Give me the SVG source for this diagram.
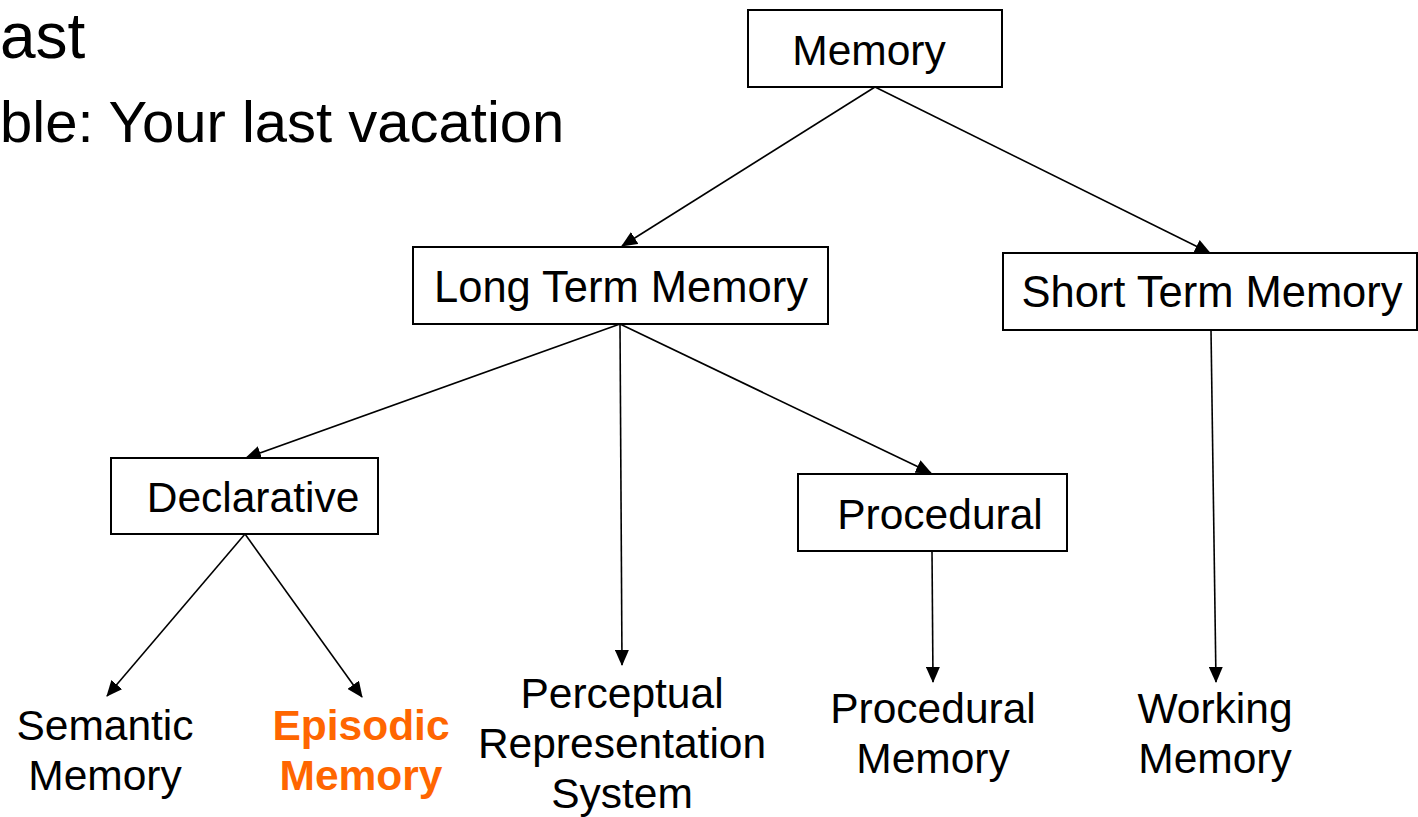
<svg xmlns="http://www.w3.org/2000/svg" width="1418" height="817" viewBox="0 0 1418 817">
<style>
.t{font-family:"Liberation Sans",Arial,sans-serif;font-size:42.5px;fill:#000;text-anchor:middle}
.w{font-size:43.5px}
.box{fill:#fff;stroke:#000;stroke-width:2}
.c{stroke:#000;stroke-width:1.6;fill:none;marker-end:url(#ah)}
.ep{font-weight:bold;fill:#FF6600}
</style>
<defs>
<marker id="ah" markerWidth="16" markerHeight="14" refX="15" refY="7" orient="auto" markerUnits="userSpaceOnUse">
<path d="M0,0 L16,7 L0,14 Z" fill="#000"/>
</marker>
</defs>
<rect width="1418" height="817" fill="#fff"/>
<g id="bullets">
<text x="0" y="58" style="font-family:'Liberation Sans',Arial,sans-serif;font-size:64px">ast</text>
<text x="0" y="142" style="font-family:'Liberation Sans',Arial,sans-serif;font-size:58px">ble: Your last vacation</text>
</g>
<g id="connectors">
<line class="c" x1="875" y1="87" x2="622" y2="246"/>
<line class="c" x1="875" y1="87" x2="1210" y2="253"/>
<line class="c" x1="620" y1="324" x2="246" y2="458"/>
<line class="c" x1="620" y1="324" x2="622" y2="665"/>
<line class="c" x1="620" y1="324" x2="931" y2="473"/>
<line class="c" x1="1211" y1="330" x2="1216" y2="682"/>
<line class="c" x1="245" y1="534" x2="107" y2="696"/>
<line class="c" x1="245" y1="534" x2="362" y2="697"/>
<line class="c" x1="932" y1="551" x2="933" y2="682"/>
</g>
<g id="memory">
<rect class="box" x="748" y="10" width="254" height="77"/>
<text class="t" x="869" y="65">Memory</text>
</g>
<g id="long-term-memory">
<rect class="box" x="413" y="247" width="415" height="77"/>
<text class="t w" x="621" y="302">Long Term Memory</text>
</g>
<g id="short-term-memory">
<rect class="box" x="1003" y="253" width="414" height="77"/>
<text class="t w" x="1212" y="307">Short Term Memory</text>
</g>
<g id="declarative">
<rect class="box" x="111" y="458" width="267" height="76"/>
<text class="t" x="253" y="512">Declarative</text>
</g>
<g id="procedural">
<rect class="box" x="798" y="474" width="269" height="77"/>
<text class="t" x="940" y="529">Procedural</text>
</g>
<g id="semantic-memory">
<text class="t" x="105" y="740">Semantic</text>
<text class="t" x="105" y="790">Memory</text>
</g>
<g id="episodic-memory">
<text class="t ep" x="361" y="740">Episodic</text>
<text class="t ep" x="361" y="790">Memory</text>
</g>
<g id="perceptual-representation-system">
<text class="t" x="622" y="708">Perceptual</text>
<text class="t" x="622" y="758">Representation</text>
<text class="t" x="622" y="808">System</text>
</g>
<g id="procedural-memory">
<text class="t" x="933" y="723">Procedural</text>
<text class="t" x="933" y="773">Memory</text>
</g>
<g id="working-memory">
<text class="t" x="1215" y="723">Working</text>
<text class="t" x="1215" y="773">Memory</text>
</g>
</svg>
